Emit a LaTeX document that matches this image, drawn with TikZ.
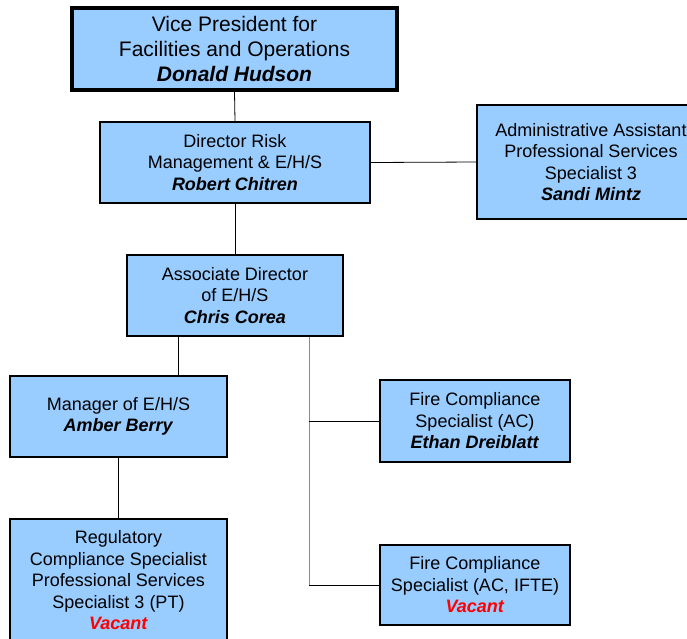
\documentclass[tikz,border=0pt]{standalone}
\usepackage{fontspec}
\setmainfont{Liberation Sans}
\definecolor{boxblue}{RGB}{153,204,255}
\definecolor{trunkgray}{RGB}{140,140,140}
\newcommand{\who}[1]{\textbf{\textit{#1}}}
\newcommand{\vacant}{\textcolor{red}{\textbf{\textit{Vacant}}}}

\begin{document}
\begin{tikzpicture}[x=1pt, y=-1pt, font=\fontsize{18}{21.5}\selectfont,
  post/.style={draw, line width=1.5pt, fill=boxblue, align=center, inner sep=0pt},
  link/.style={line width=0.8pt}]
\useasboundingbox (0,0) rectangle (687,638);
\clip (0,0) rectangle (687,638);
% EHS org chart boxes
\node[post, line width=3.5pt, minimum width=325, minimum height=82,
  font=\fontsize{21}{25}\selectfont] (vp) at (234.5,49)
  {Vice President for\\Facilities and Operations\\\who{Donald Hudson}};
\node[post, minimum width=270, minimum height=81] (dir) at (235,162.5)
  {Director Risk\\Management \& E/H/S\\\who{Robert Chitren}};
\node[post, minimum width=228, minimum height=114] (admin) at (591,162)
  {Administrative Assistant\\Professional Services\\Specialist 3\\\who{Sandi Mintz}};
\node[post, minimum width=216, minimum height=81] (assoc) at (235,295.5)
  {Associate Director\\of E/H/S\\\who{Chris Corea}};
\node[post, minimum width=217, minimum height=81] (mgr) at (118.5,416.5)
  {Manager of E/H/S\\\who{Amber Berry}};
\node[post, minimum width=190, minimum height=82] (fire1) at (475,421)
  {Fire Compliance\\Specialist (AC)\\\who{Ethan Dreiblatt}};
\node[post, minimum width=217, minimum height=123] (reg) at (118.5,580.5)
  {Regulatory\\Compliance Specialist\\Professional Services\\Specialist 3 (PT)\\\vacant};
\node[post, minimum width=190, minimum height=80] (fire2) at (475,585)
  {Fire Compliance\\Specialist (AC, IFTE)\\\vacant};
% reporting lines
\draw[link] (vp.south) -- (dir.north);
\draw[link] (dir.south) -- (assoc.north);
\draw[link] (dir.east) -- (admin.west);
\draw[link] ([xshift=-57]assoc.south) -- ([xshift=-57]assoc.south |- mgr.north);
\draw[link] (mgr.south) -- (reg.north);
\coordinate (trunk) at ([xshift=74]assoc.south);
\draw[link, trunkgray] (trunk) -- (trunk |- fire2.west);
\draw[link] (trunk |- fire1.west) -- (fire1.west);
\draw[link] (trunk |- fire2.west) -- (fire2.west);
\end{tikzpicture}
\end{document}
